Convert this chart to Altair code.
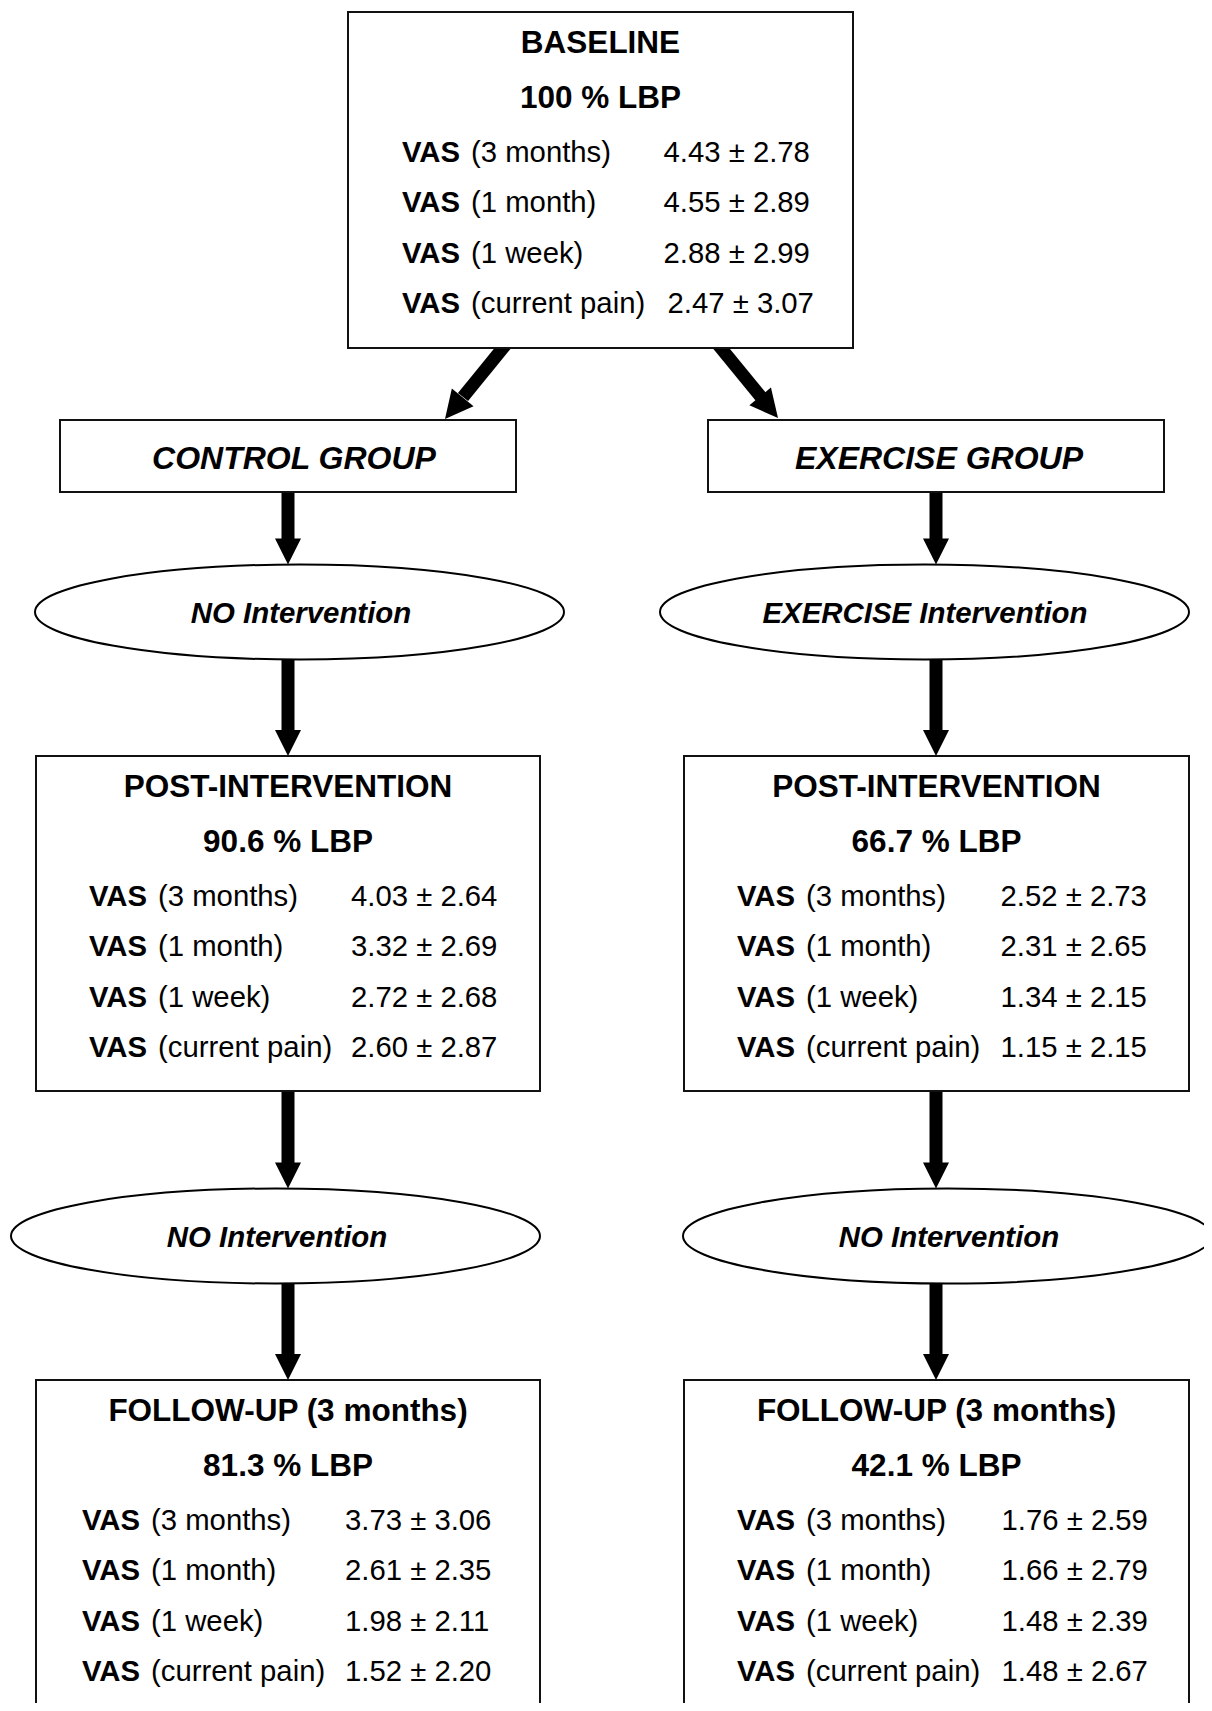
import altair as alt
import pandas as pd

# ---------------- data ----------------
stage_titles = ["BASELINE", "POST-INTERVENTION", "POST-INTERVENTION",
                "FOLLOW-UP (3 months)", "FOLLOW-UP (3 months)"]
lbp_percent = ["100", "90.6", "66.7", "81.3", "42.1"]
vas_periods = ["(3 months)", "(1 month)", "(1 week)", "(current pain)"]

baseline_mean = [4.43, 4.55, 2.88, 2.47]
baseline_sd = [2.78, 2.89, 2.99, 3.07]
control_post_mean = [4.03, 3.32, 2.72, 2.60]
control_post_sd = [2.64, 2.69, 2.68, 2.87]
exercise_post_mean = [2.52, 2.31, 1.34, 1.15]
exercise_post_sd = [2.73, 2.65, 2.15, 2.15]
control_fu_mean = [3.73, 2.61, 1.98, 1.52]
control_fu_sd = [3.06, 2.35, 2.11, 2.20]
exercise_fu_mean = [1.76, 1.66, 1.48, 1.48]
exercise_fu_sd = [2.59, 2.79, 2.39, 2.67]

group_labels = ["CONTROL GROUP", "EXERCISE GROUP"]
intervention_labels = ["NO Intervention", "EXERCISE Intervention",
                       "NO Intervention", "NO Intervention"]

means = [baseline_mean, control_post_mean, exercise_post_mean, control_fu_mean, exercise_fu_mean]
sds = [baseline_sd, control_post_sd, exercise_post_sd, control_fu_sd, exercise_fu_sd]

# ---------------- layout (page pixels) ----------------
box_x1 = [348, 36, 684, 36, 684]
box_x2 = [853, 540, 1189, 540, 1189]
box_y1 = [12, 756, 756, 1380, 1380]
box_y2 = [348, 1091, 1091, 1730, 1730]
box_cx = [600.5, 288, 936.5, 288, 936.5]
vas_x = [402, 89, 737, 82, 737]
val_x = [663.5, 351, 1000.5, 345, 1001.5]
val_shift = [[0, 0, 0, 4], [0] * 4, [0] * 4, [0] * 4, [0] * 4]
title_off, lbp_off = 41, 96
row_off = [149.5, 200, 250.5, 301]
paren_gap = 69

grp_x1, grp_x2, grp_y1, grp_y2 = [60, 708], [516, 1164], 420, 492
grp_tx, grp_ty = [294, 939], 469

ell_cx = [299.5, 924.5, 275.5, 947.5]
ell_cy = [612, 612, 1236, 1236]
ell_tx = [301, 925, 277, 949]

arrow_x = [288, 288, 288, 288, 936, 936, 936, 936]
arrow_y0 = [492, 659, 1091, 1284, 492, 659, 1091, 1284]
arrow_tip = [564.5, 756, 1188.5, 1380, 564.5, 756, 1188.5, 1380]

diag_x0, diag_y0 = [511, 712.7], [338, 338]
diag_x1, diag_y1 = [463, 761], [397, 397]
diag_tipx, diag_tipy = [445, 778], [419, 418]
diag_angle = [39.2, 320.4]

FONT = "Arial, Liberation Sans, Helvetica, sans-serif"
BODY = 29.3
XS = alt.Scale(domain=[8, 1204], nice=False, zero=False)
YS = alt.Scale(domain=[8, 1703], nice=False, zero=False, reverse=True)


def X(f="x"):
    return alt.X(f + ":Q", scale=XS, axis=None)


def Y(f="y"):
    return alt.Y(f + ":Q", scale=YS, axis=None)


# ---------------- tables ----------------
boxes = pd.DataFrame({"x": box_x1, "x2": box_x2, "y": box_y1, "y2": box_y2})
groups = pd.DataFrame({"x": grp_x1, "x2": grp_x2, "y": [grp_y1] * 2, "y2": [grp_y2] * 2})

titles = pd.DataFrame({"x": box_cx, "y": [t + title_off for t in box_y1], "t": stage_titles})
lbps = pd.DataFrame({"x": box_cx, "y": [t + lbp_off for t in box_y1],
                     "t": [p + " % LBP" for p in lbp_percent]})

rows = []
for b in range(5):
    for r in range(4):
        rows.append({
            "xv": vas_x[b], "xp": vas_x[b] + paren_gap, "xn": val_x[b] + val_shift[b][r],
            "y": box_y1[b] + row_off[r],
            "period": vas_periods[r],
            "val": f"{means[b][r]:.2f} \u00b1 {sds[b][r]:.2f}",
        })
rows = pd.DataFrame(rows)

grp_text = pd.DataFrame({"x": grp_tx, "y": [grp_ty] * 2, "t": group_labels})
ellipses = pd.DataFrame({"x": ell_cx, "y": ell_cy})
ell_text = pd.DataFrame({"x": ell_tx, "y": [c + 10.5 for c in ell_cy], "t": intervention_labels})

shafts = pd.DataFrame({"x": arrow_x, "x2": arrow_x, "y": arrow_y0, "y2": [t - 25 for t in arrow_tip]})
heads = pd.DataFrame({"x": arrow_x, "y": arrow_tip, "a": [0] * 8, "s": [676] * 8})
dshafts = pd.DataFrame({"x": diag_x0, "x2": diag_x1, "y": diag_y0, "y2": diag_y1})
dheads = pd.DataFrame({"x": diag_tipx, "y": diag_tipy, "a": diag_angle, "s": [784] * 2})
all_heads = pd.concat([heads, dheads], ignore_index=True)

# ---------------- marks ----------------
head_path = "M-1,-2 L1,-2 L0,0 Z"
k, R = 0.5523, 47.5 / 264.5
ell_path = (f"M-1,0 C-1,{-k*R:.4f} {-k},{-R:.4f} 0,{-R:.4f} "
            f"C{k},{-R:.4f} 1,{-k*R:.4f} 1,0 "
            f"C1,{k*R:.4f} {k},{R:.4f} 0,{R:.4f} "
            f"C{-k},{R:.4f} -1,{k*R:.4f} -1,0 Z")

shaft_layer = alt.Chart(pd.concat([shafts, dshafts], ignore_index=True)).mark_rule(
    color="black", strokeWidth=13, strokeCap="butt"
).encode(x=X(), x2="x2:Q", y=Y(), y2="y2:Q")

head_layer = alt.Chart(all_heads).mark_point(
    shape=head_path, filled=True, color="black", opacity=1, strokeWidth=0
).encode(x=X(), y=Y(), angle=alt.Angle("a:Q", scale=None), size=alt.Size("s:Q", scale=None))

box_layer = alt.Chart(boxes).mark_rect(
    fill="white", stroke="#111111", strokeWidth=2, clip=True
).encode(x=X(), x2="x2:Q", y=Y(), y2="y2:Q")

grp_layer = alt.Chart(groups).mark_rect(
    fill="white", stroke="#111111", strokeWidth=2
).encode(x=X(), x2="x2:Q", y=Y(), y2="y2:Q")

ell_layer = alt.Chart(ellipses).mark_point(
    shape=ell_path, size=529 ** 2, filled=False, stroke="black", strokeWidth=2, opacity=1
).encode(x=X(), y=Y())

title_layer = alt.Chart(titles).mark_text(
    font=FONT, fontSize=31.5, fontWeight="bold", align="center", baseline="alphabetic", color="black"
).encode(x=X(), y=Y(), text="t:N")

lbp_layer = alt.Chart(lbps).mark_text(
    font=FONT, fontSize=31.5, fontWeight="bold", align="center", baseline="alphabetic", color="black"
).encode(x=X(), y=Y(), text="t:N")

vas_layer = alt.Chart(rows).transform_calculate(lab="'VAS'").mark_text(
    font=FONT, fontSize=BODY, fontWeight="bold", align="left", baseline="alphabetic", color="black"
).encode(x=X("xv"), y=Y(), text="lab:N")

period_layer = alt.Chart(rows).mark_text(
    font=FONT, fontSize=BODY, align="left", baseline="alphabetic", color="black"
).encode(x=X("xp"), y=Y(), text="period:N")

val_layer = alt.Chart(rows).mark_text(
    font=FONT, fontSize=BODY, align="left", baseline="alphabetic", color="black"
).encode(x=X("xn"), y=Y(), text="val:N")

grp_text_layer = alt.Chart(grp_text).mark_text(
    font=FONT, fontSize=32, fontWeight="bold", fontStyle="italic", align="center",
    baseline="alphabetic", color="black"
).encode(x=X(), y=Y(), text="t:N")

ell_text_layer = alt.Chart(ell_text).mark_text(
    font=FONT, fontSize=29.4, fontWeight="bold", fontStyle="italic", align="center",
    baseline="alphabetic", color="black"
).encode(x=X(), y=Y(), text="t:N")

chart = alt.layer(
    shaft_layer, box_layer, grp_layer, head_layer, ell_layer,
    title_layer, lbp_layer, vas_layer, period_layer, val_layer,
    grp_text_layer, ell_text_layer
).properties(
    width=1196, height=1695, padding=0, background="white",
    autosize=alt.AutoSizeParams(type="none"),
).configure_view(stroke=None)

chart.save("out.html", embed_options={"renderer": "svg", "actions": False})
